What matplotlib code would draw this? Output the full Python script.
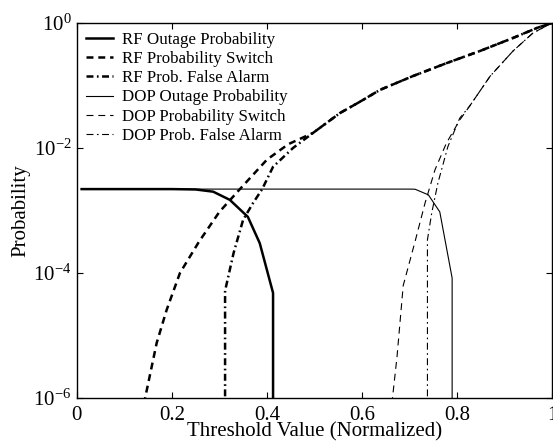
import matplotlib
matplotlib.use("Agg")
import matplotlib.pyplot as plt

plt.rcParams['font.family'] = ['Liberation Serif', 'DejaVu Serif']
plt.rcParams['mathtext.fontset'] = 'custom'
plt.rcParams['mathtext.rm'] = 'Liberation Serif'
plt.rcParams['mathtext.it'] = 'Liberation Serif:italic'
plt.rcParams['lines.scale_dashes'] = False

# RF curves
rf_out_x = [0.01, 0.20, 0.25, 0.287, 0.322, 0.36, 0.385, 0.413, 0.413]
rf_out_y = [2.2e-3, 2.2e-3, 2.17e-3, 2.0e-3, 1.48e-3, 7.9e-4, 3.0e-4, 4.8e-5, 1e-7]

rf_sw_x = [0.141, 0.168, 0.189, 0.217, 0.257, 0.30, 0.343, 0.40, 0.445, 0.497, 0.554,
           0.596, 0.638, 0.707, 0.779, 0.848, 0.918, 0.968, 1.0]
rf_sw_y = [8e-7, 7.6e-6, 2.57e-5, 1.0e-4, 3.16e-4, 9.5e-4, 2.19e-3, 6.5e-3, 1.15e-2,
           1.74e-2, 3.63e-2, 5.5e-2, 8.5e-2, 0.141, 0.229, 0.355, 0.575, 0.83, 1.0]

rf_pfa_x = [0.312, 0.312, 0.33, 0.35, 0.371, 0.39, 0.413, 0.455, 0.497, 0.554,
            0.596, 0.638, 0.707, 0.779, 0.848, 0.918, 0.968, 1.0]
rf_pfa_y = [1e-7, 5.2e-5, 2.1e-4, 7.1e-4, 1.32e-3, 2.19e-3, 5.0e-3, 1.0e-2, 1.74e-2,
            3.63e-2, 5.5e-2, 8.5e-2, 0.141, 0.229, 0.355, 0.575, 0.83, 1.0]

# DOP curves
dop_out_x = [0.01, 0.70, 0.712, 0.74, 0.764, 0.79, 0.79]
dop_out_y = [2.2e-3, 2.2e-3, 2.19e-3, 1.78e-3, 9.5e-4, 8.3e-5, 1e-7]

dop_sw_x = [0.663, 0.674, 0.687, 0.712, 0.733, 0.754, 0.778, 0.806, 0.827, 0.87, 0.918, 0.96, 1.0]
dop_sw_y = [8e-7, 4.6e-6, 6.3e-5, 3.2e-4, 1.32e-3, 4.5e-3, 1.2e-2, 2.8e-2, 4.7e-2, 0.141, 0.355, 0.69, 1.0]

dop_pfa_x = [0.738, 0.738, 0.747, 0.76, 0.781, 0.806, 0.827, 0.87, 0.918, 0.96, 1.0]
dop_pfa_y = [1e-7, 3.4e-4, 9.1e-4, 2.75e-3, 1.05e-2, 3.0e-2, 4.7e-2, 0.141, 0.355, 0.69, 1.0]

labels = ["RF Outage Probability", "RF Probability Switch", "RF Prob. False Alarm",
          "DOP Outage Probability", "DOP Probability Switch", "DOP Prob. False Alarm"]
x_ticks = [0, 0.2, 0.4, 0.6, 0.8, 1]
x_ticklabels = ["0", "0.2", "0.4", "0.6", "0.8", "1"]
y_ticks = [1e-6, 1e-4, 1e-2, 1e0]
y_ticklabels = [r"$10^{-6}$", r"$10^{-4}$", r"$10^{-2}$", r"$10^{0}$"]

fig = plt.figure(figsize=(5.53, 4.42), dpi=100)
ax = fig.add_axes([0.139, 0.0995, 0.859, 0.8485])

thick = 1.8
thin = 0.8
dash = (5, 3.5)
dashdot = (5, 2.5, 1.2, 2.5)

ax.plot(rf_out_x, rf_out_y, color='k', lw=thick, ls='-', label=labels[0])
ax.plot(rf_sw_x, rf_sw_y, color='k', lw=thick, dashes=dash, label=labels[1])
ax.plot(rf_pfa_x, rf_pfa_y, color='k', lw=thick, dashes=dashdot, label=labels[2])
ax.plot(dop_out_x, dop_out_y, color='k', lw=thin, ls='-', label=labels[3])
ax.plot(dop_sw_x, dop_sw_y, color='k', lw=thin, dashes=dash, label=labels[4])
ax.plot(dop_pfa_x, dop_pfa_y, color='k', lw=thin, dashes=dashdot, label=labels[5])

ax.set_yscale('log')
ax.set_xlim(0, 1)
ax.set_ylim(1e-6, 1)
ax.set_xticks(x_ticks)
ax.set_xticklabels(x_ticklabels)
ax.set_yticks(y_ticks)
ax.set_yticklabels(y_ticklabels)
ax.minorticks_off()
ax.tick_params(direction='in', top=True, right=True, length=4, width=0.8,
               labelsize=15)
ax.tick_params(axis='x', pad=5.5)
ax.tick_params(axis='y', pad=4)
for s in ax.spines.values():
    s.set_linewidth(1.0)

ax.set_xlabel("Threshold Value (Normalized)", fontsize=15, labelpad=-1.5)
ax.set_ylabel("Probability", fontsize=15, labelpad=2)

leg = ax.legend(loc='upper left', frameon=False, fontsize=12.2, handlelength=1.6,
                handletextpad=0.5, labelspacing=0.18, borderaxespad=0.35,
                borderpad=0.2)

fig.savefig("out.png", dpi=100)
